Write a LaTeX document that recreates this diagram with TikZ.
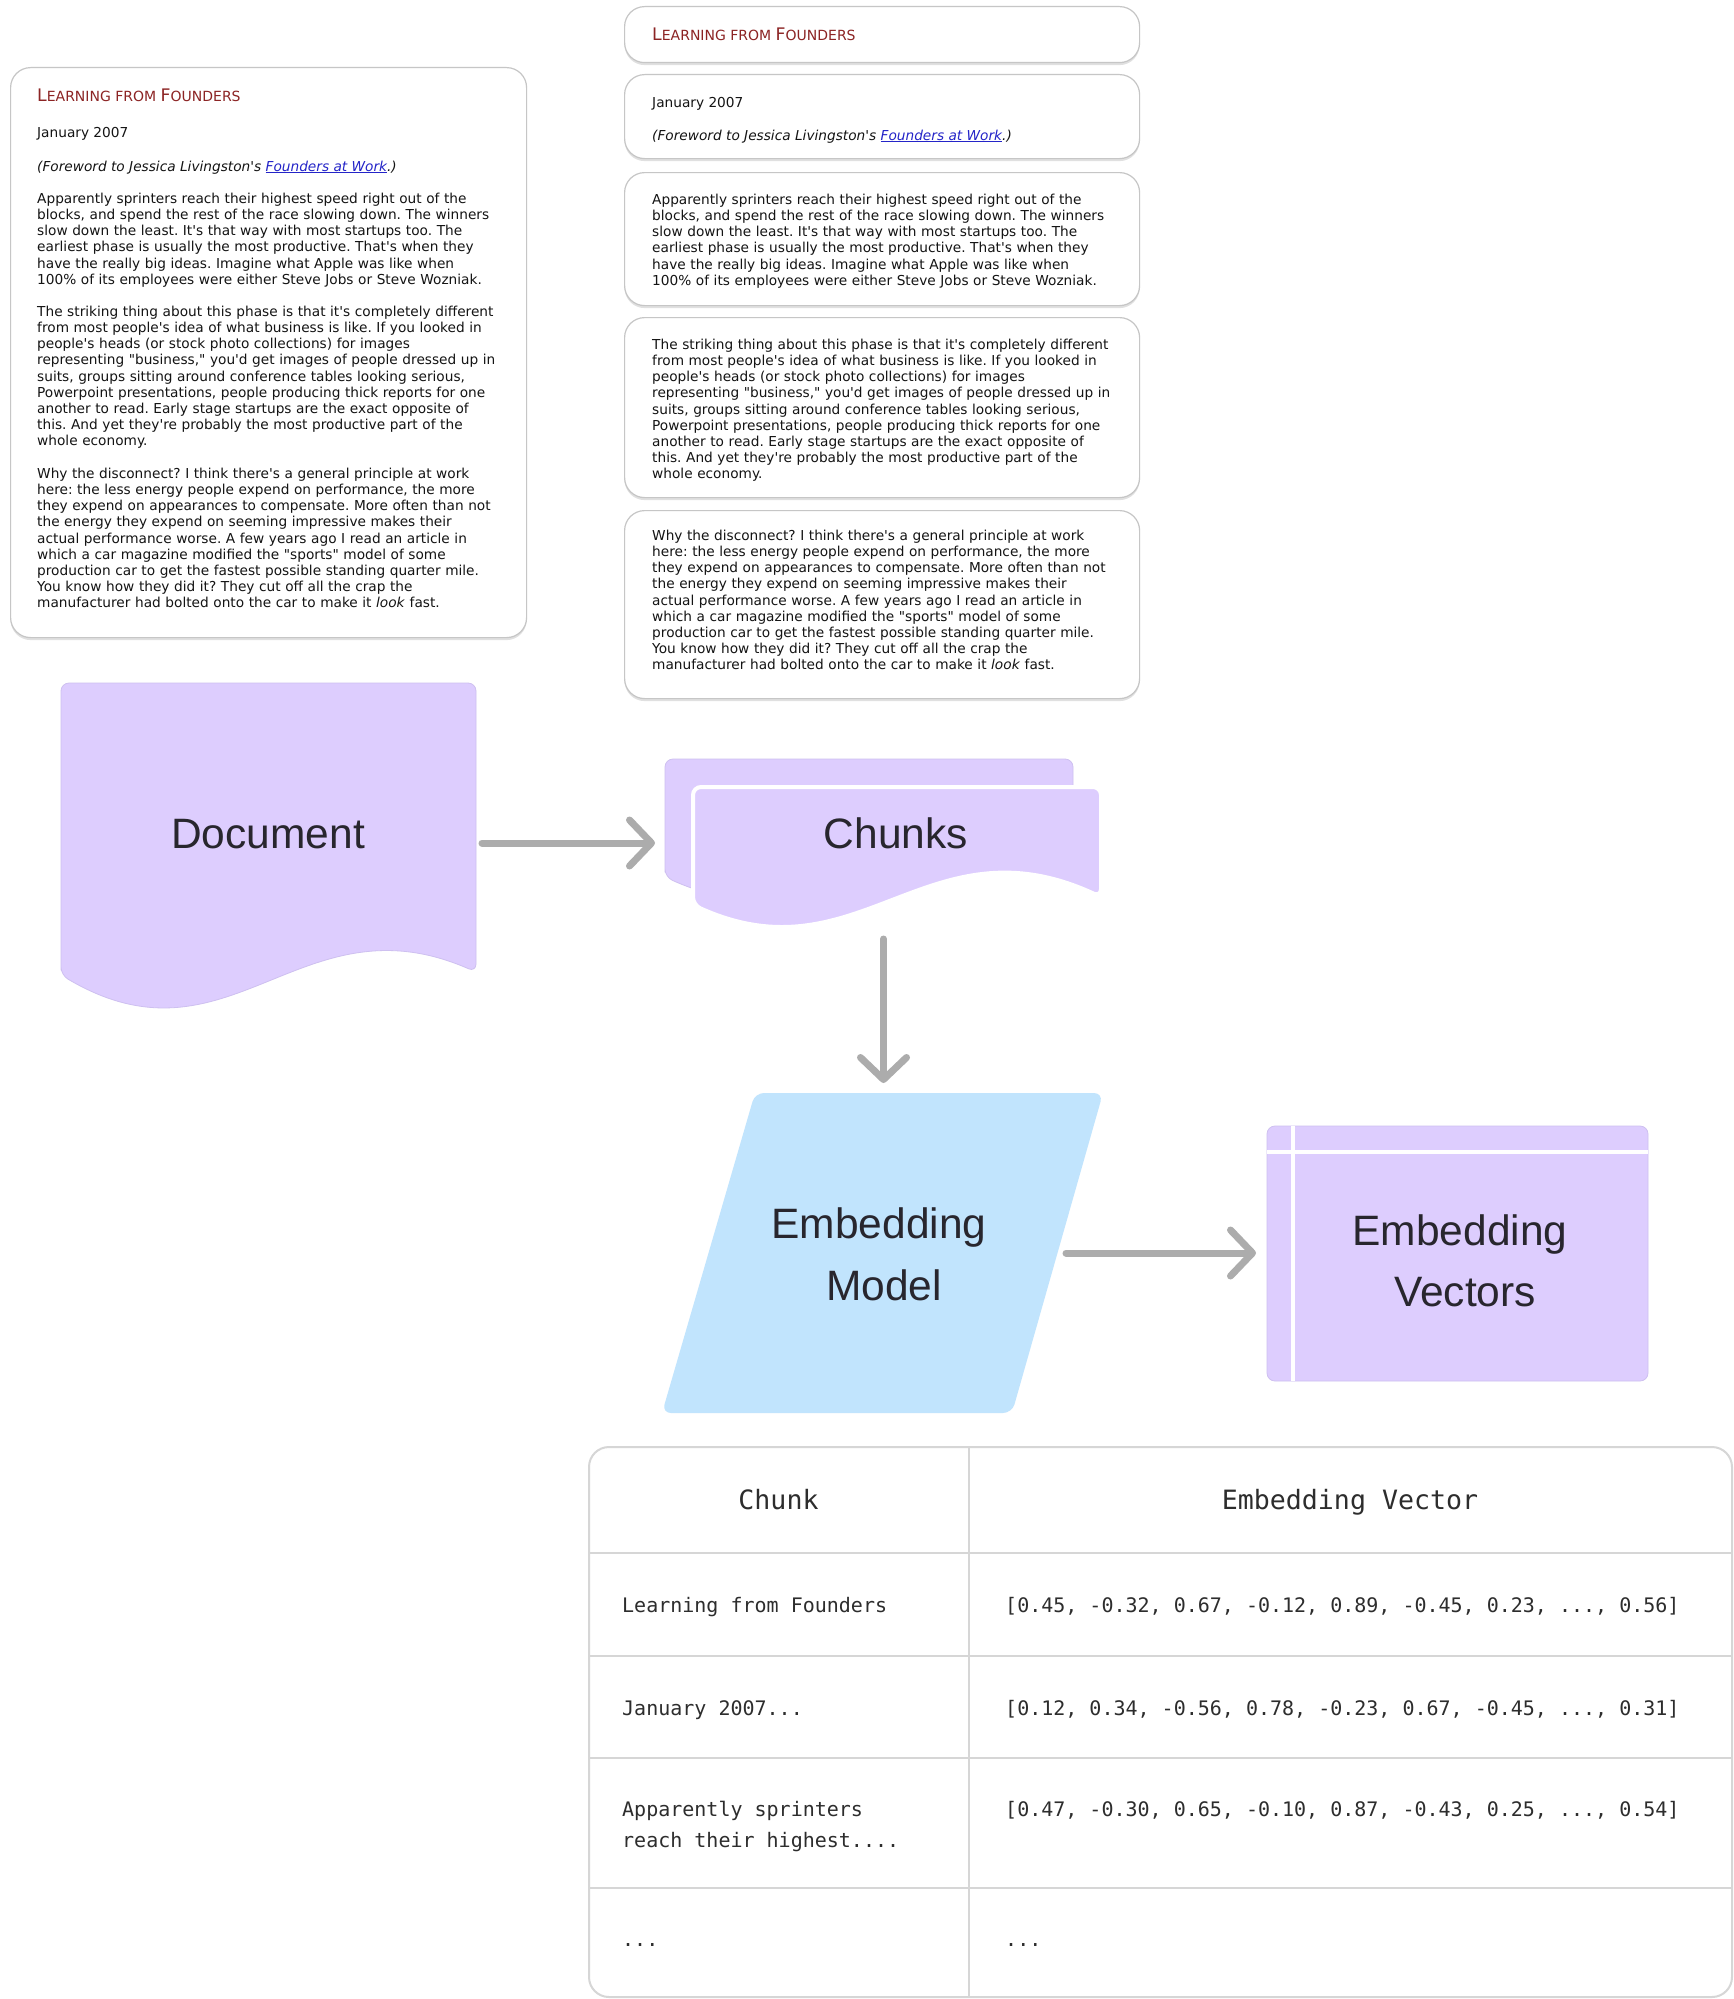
\documentclass[tikz,border=0pt]{standalone}
\usepackage{fontspec}
\usetikzlibrary{arrows.meta,calc,shadows}
\newfontfamily\vf{DejaVu Sans}[Ligatures=TeXOff]
\newfontfamily\hf{Liberation Sans}
\newfontfamily\mf{DejaVu Sans Mono}[Ligatures=TeXOff]
\definecolor{lav}{RGB}{221,205,254}
\definecolor{lavedge}{RGB}{206,192,240}
\definecolor{skyb}{RGB}{193,228,253}
\definecolor{arrg}{RGB}{172,172,172}
\definecolor{ttl}{RGB}{140,36,36}
\definecolor{lnk}{RGB}{36,36,200}
\definecolor{boxedge}{RGB}{198,198,198}
\definecolor{tblline}{RGB}{214,214,214}
\definecolor{labtxt}{RGB}{40,38,46}
\definecolor{montxt}{RGB}{45,45,45}
\definecolor{bodytxt}{RGB}{20,20,20}
\newcommand{\lffTitle}{{\fontsize{17.3}{17.3}\selectfont L}{\fontsize{14}{14}\selectfont EARNING FROM }{\fontsize{17.3}{17.3}\selectfont F}{\fontsize{14}{14}\selectfont OUNDERS}}
\newcommand{\lffFore}{\textit{(Foreword to Jessica Livingston's \textcolor{lnk}{\underline{Founders at Work}}.)}}
\newcommand{\lffParA}{\strut Apparently sprinters reach their highest speed right out of the\\
blocks, and spend the rest of the race slowing down. The winners\\
slow down the least. It's that way with most startups too. The\\
earliest phase is usually the most productive. That's when they\\
have the really big ideas. Imagine what Apple was like when\\
100\% of its employees were either Steve Jobs or Steve Wozniak.}
\newcommand{\lffParB}{\strut The striking thing about this phase is that it's completely different\\
from most people's idea of what business is like. If you looked in\\
people's heads (or stock photo collections) for images\\
representing "business," you'd get images of people dressed up in\\
suits, groups sitting around conference tables looking serious,\\
Powerpoint presentations, people producing thick reports for one\\
another to read. Early stage startups are the exact opposite of\\
this. And yet they're probably the most productive part of the\\
whole economy.}
\newcommand{\lffParC}{\strut Why the disconnect? I think there's a general principle at work\\
here: the less energy people expend on performance, the more\\
they expend on appearances to compensate. More often than not\\
the energy they expend on seeming impressive makes their\\
actual performance worse. A few years ago I read an article in\\
which a car magazine modified the "sports" model of some\\
production car to get the fastest possible standing quarter mile.\\
You know how they did it? They cut off all the crap the\\
manufacturer had bolted onto the car to make it \textit{look} fast.}
\begin{document}
\frenchspacing
\begin{tikzpicture}[x=1pt,y=-1pt,
  tbox/.style={draw=boxedge, line width=1.2pt, fill=white, rounded corners=20pt, inner sep=0pt, anchor=north west,
    drop shadow={shadow xshift=0pt, shadow yshift=-2.5pt, opacity=0.12, fill=black}},
  body/.style={anchor=north west, inner sep=0pt, text width=500pt, align=left, text=bodytxt, font=\vf\fontsize{13.7}{16.2}\selectfont},
  one/.style={anchor=base west, inner sep=0pt, text=bodytxt, font=\vf\fontsize{13.7}{16.2}\selectfont},
  ttlnode/.style={anchor=base west, inner sep=0pt, text=ttl, font=\vf},
  big/.style={anchor=base, inner sep=0pt, text=labtxt, font=\hf\fontsize{42.5}{50}\selectfont},
  arr/.style={draw=arrg, line width=7pt, line cap=round, -{Straight Barb[length=22pt,width=46pt,round]}},
  bbox/.style={draw=none, inner sep=0pt, outer sep=0pt, rectangle},
  thead/.style={anchor=base, inner sep=0pt, text=montxt, font=\mf\fontsize{26.6}{30}\selectfont},
  tcell/.style={anchor=base west, inner sep=0pt, text=montxt, font=\mf\fontsize{20}{24}\selectfont},
  lavshape/.style={fill=lav, draw=lavedge, line width=0.8pt},
]
\useasboundingbox (0,0) rectangle (1733,1999);
\fill[white] (0,0) rectangle (1733,1999);

% ---------- source document (left) ----------
\node[tbox, minimum width=516pt, minimum height=570pt] (lbox) at (10,67) {};
\node[ttlnode] (lttl) at (37,102) {\lffTitle};
\node[one] (ldate) at (37,138) {January 2007};
\node[one] (lfore) at (37,171) {\lffFore};
\node[body] (lp1) at (37,191.66) {\lffParA};
\node[body] (lp2) at (37,304.66) {\lffParB};
\node[body] (lp3) at (37,466.66) {\lffParC};

% ---------- chunked document (right) ----------
\node[tbox, minimum width=515pt, minimum height=56pt] (rb1) at (624,6) {};
\node[tbox, minimum width=515pt, minimum height=84pt] (rb2) at (624,74) {};
\node[tbox, minimum width=515pt, minimum height=133pt] (rb3) at (624,172) {};
\node[tbox, minimum width=515pt, minimum height=180pt] (rb4) at (624,317) {};
\node[tbox, minimum width=515pt, minimum height=188pt] (rb5) at (624,510) {};
\node[ttlnode] (rttl) at (652,41) {\lffTitle};
\node[one] (rdate) at (652,108) {January 2007};
\node[one] (rfore) at (652,140) {\lffFore};
\node[body] (rp1) at (652,192.66) {\lffParA};
\node[body] (rp2) at (652,337.66) {\lffParB};
\node[body] (rp3) at (652,528.66) {\lffParC};

% ---------- flowchart shapes ----------
\path[lavshape, rounded corners=8pt] (61,975) -- (61,683) -- (476,683) -- (476,972)
  .. controls (300,895) and (230,1075) .. (61,975) -- cycle;
\begin{scope}[shift={(-28,-28)}]
\path[lavshape, rounded corners=8pt] (693,905) -- (693,787) -- (1101,787) -- (1101,897)
  .. controls (928,817) and (859,980) .. (693,905) -- cycle;
\end{scope}
\path[fill=lav, draw=white, line width=4pt, rounded corners=8pt] (693,905) -- (693,787) -- (1101,787) -- (1101,897)
  .. controls (928,817) and (859,980) .. (693,905) -- cycle;
\path[fill=skyb, rounded corners=9pt] (755,1093) -- (1103,1093) -- (1012,1413) -- (662,1413) -- cycle;
\path[lavshape, rounded corners=8pt] (1267,1126) rectangle (1648,1381);
\draw[white, line width=4pt] (1293,1126) -- (1293,1381);
\draw[white, line width=4pt] (1267,1152) -- (1648,1152);

\node[bbox, minimum width=415pt, minimum height=320pt] (doc) at (268.5,843) {};
\node[bbox, minimum width=435pt, minimum height=169pt] (chunks) at (883.5,843.5) {};
\node[bbox, minimum width=441pt, minimum height=320pt] (model) at (882.5,1253) {};
\node[bbox, minimum width=381pt, minimum height=255pt] (vec) at (1457.5,1253.5) {};
\coordinate (modelR) at (1058,1253);

\node[big] (doclbl) at (268,848) {Document};
\node[big] (chlbl) at (896,848) {Chunks};
\node[big] (ml1) at (879,1238) {Embedding};
\node[big] (ml2) at (884,1300) {Model};
\node[big] (vl1) at (1460,1245) {Embedding};
\node[big] (vl2) at (1465,1306) {Vectors};

% ---------- connectors ----------
\draw[arr] ($(doc.east)+(6,0)$) -- ($(doc.east -| chunks.west)+(-11,0)$);
\draw[arr] ($(chunks.south)+(0,11)$) -- ($(chunks.south |- model.north)+(0,-10)$);
\draw[arr] ($(modelR)+(8,0)$) -- ($(modelR -| vec.west)+(-11,0)$);

% ---------- table ----------
\node[draw=tblline, line width=2pt, rounded corners=20pt, minimum width=1143pt, minimum height=550pt, anchor=north west, inner sep=0pt] (tbl) at (588,1446) {};
\draw[tblline, line width=2pt] (969,1446) -- (969,1996);
\draw[tblline, line width=2pt] (588,1553) -- (1731,1553);
\draw[tblline, line width=2pt] (588,1656) -- (1731,1656);
\draw[tblline, line width=2pt] (588,1758) -- (1731,1758);
\draw[tblline, line width=2pt] (588,1888) -- (1731,1888);
\node[thead] (th1) at (778.5,1509) {Chunk};
\node[thead] (th2) at (1350,1509) {Embedding Vector};
\node[tcell] (r1a) at (622,1612) {Learning from Founders};
\node[tcell] (r1b) at (1005,1612) {[0.45, -0.32, 0.67, -0.12, 0.89, -0.45, 0.23, ..., 0.56]};
\node[tcell] (r2a) at (622,1715) {January 2007...};
\node[tcell] (r2b) at (1005,1715) {[0.12, 0.34, -0.56, 0.78, -0.23, 0.67, -0.45, ..., 0.31]};
\node[tcell] (r3a) at (622,1816) {Apparently sprinters};
\node[tcell] (r3c) at (622,1847) {reach their highest....};
\node[tcell] (r3b) at (1005,1816) {[0.47, -0.30, 0.65, -0.10, 0.87, -0.43, 0.25, ..., 0.54]};
\node[tcell] (r4a) at (622,1946) {...};
\node[tcell] (r4b) at (1005,1946) {...};
\end{tikzpicture}
\end{document}
